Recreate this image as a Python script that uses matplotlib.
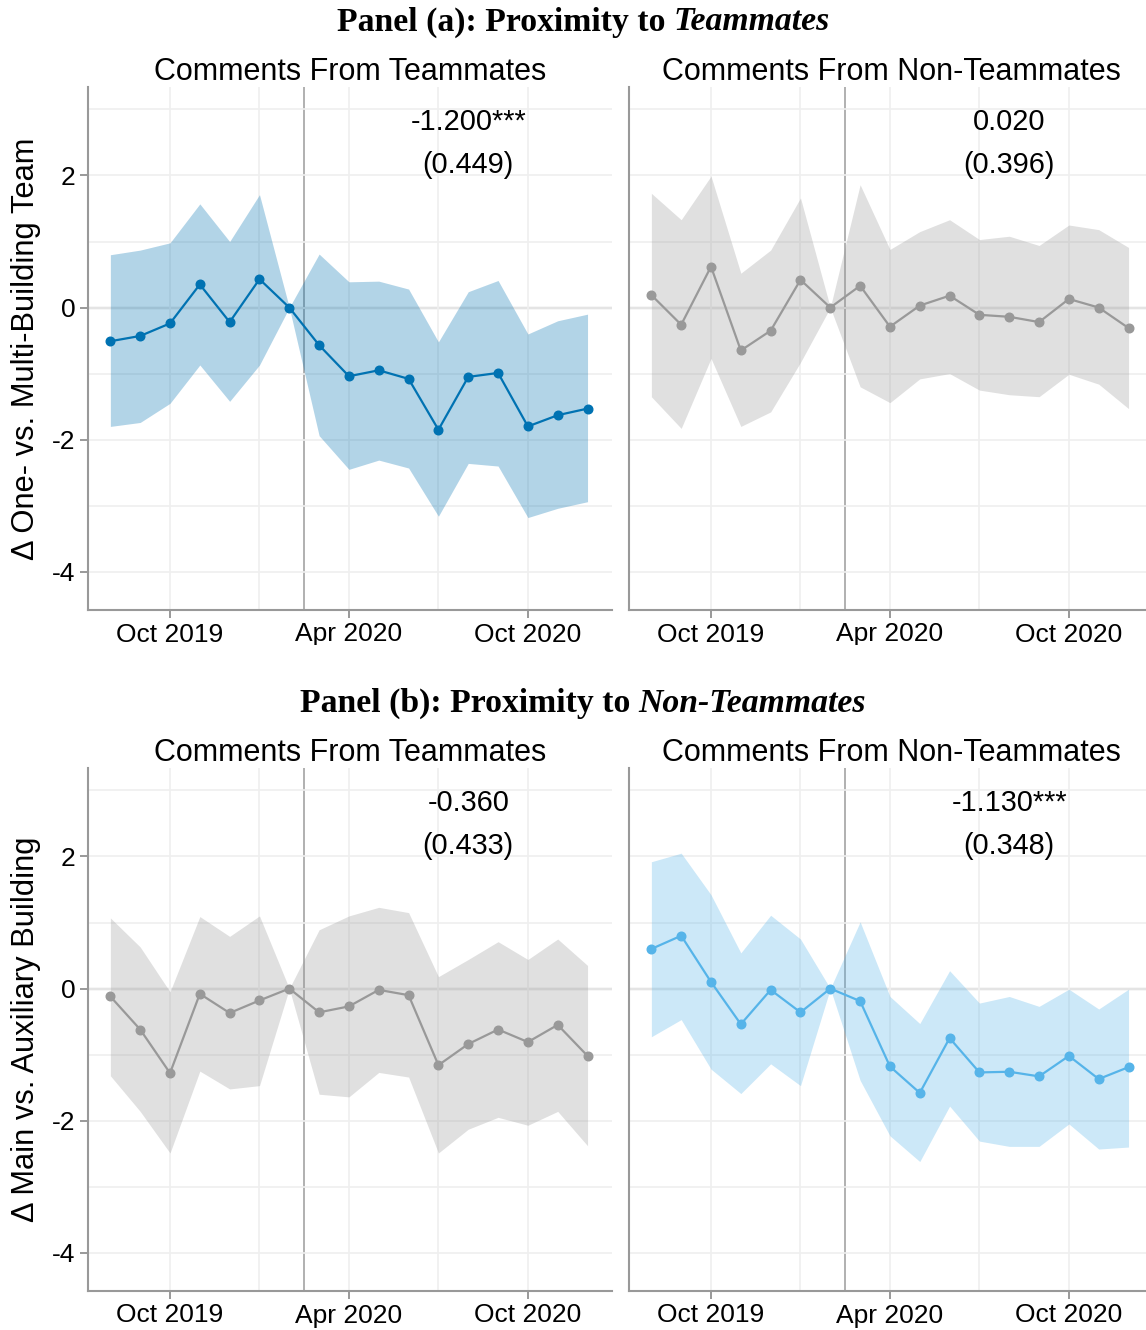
import numpy as np
import matplotlib
matplotlib.use("Agg")
import matplotlib.pyplot as plt
from matplotlib.transforms import Bbox, TransformedBbox

plt.rcParams['font.family'] = ['Liberation Sans', 'DejaVu Sans']
plt.rcParams['axes.unicode_minus'] = False

# months relative to Feb 2020 (Aug 2019 .. Dec 2020)
months = np.arange(-6, 11)
tick_pos = [-4, 2, 8]
tick_labels = ["Oct 2019", "Apr 2020", "Oct 2020"]
grid_pos = [-4, -1, 2, 5, 8]

# panel (a): one- vs multi-building team
a_team_est = [-0.51, -0.43, -0.24, 0.35, -0.22, 0.43, 0.0, -0.57, -1.04, -0.95, -1.08, -1.85, -1.05, -0.99, -1.80, -1.63, -1.53]
a_team_hi = [0.80, 0.87, 0.98, 1.57, 1.00, 1.71, 0.0, 0.81, 0.39, 0.40, 0.28, -0.52, 0.24, 0.41, -0.40, -0.20, -0.10]
a_team_lo = [-1.80, -1.74, -1.45, -0.87, -1.42, -0.87, 0.0, -1.94, -2.45, -2.31, -2.43, -3.16, -2.36, -2.40, -3.18, -3.04, -2.94]

a_non_est = [0.19, -0.26, 0.62, -0.65, -0.35, 0.42, 0.0, 0.33, -0.29, 0.03, 0.18, -0.11, -0.14, -0.22, 0.13, 0.0, -0.31]
a_non_hi = [1.73, 1.33, 1.99, 0.52, 0.87, 1.66, 0.0, 1.86, 0.88, 1.15, 1.33, 1.03, 1.08, 0.94, 1.25, 1.18, 0.91]
a_non_lo = [-1.35, -1.83, -0.77, -1.80, -1.58, -0.83, 0.0, -1.20, -1.44, -1.08, -1.00, -1.25, -1.32, -1.35, -1.01, -1.16, -1.53]

# panel (b): main vs auxiliary building
b_team_est = [-0.12, -0.62, -1.28, -0.08, -0.37, -0.18, 0.0, -0.36, -0.27, -0.02, -0.10, -1.16, -0.84, -0.62, -0.81, -0.55, -1.02]
b_team_hi = [1.07, 0.63, -0.05, 1.09, 0.79, 1.10, 0.0, 0.89, 1.10, 1.23, 1.15, 0.18, 0.44, 0.71, 0.44, 0.75, 0.35]
b_team_lo = [-1.32, -1.86, -2.49, -1.25, -1.52, -1.47, 0.0, -1.60, -1.64, -1.27, -1.34, -2.49, -2.13, -1.95, -2.07, -1.86, -2.38]

b_non_est = [0.60, 0.80, 0.10, -0.54, -0.02, -0.36, 0.0, -0.19, -1.18, -1.58, -0.75, -1.27, -1.26, -1.33, -1.02, -1.37, -1.19]
b_non_hi = [1.92, 2.05, 1.42, 0.54, 1.11, 0.75, 0.0, 1.01, -0.12, -0.53, 0.27, -0.22, -0.12, -0.27, -0.01, -0.31, -0.01]
b_non_lo = [-0.73, -0.47, -1.22, -1.59, -1.14, -1.47, 0.0, -1.39, -2.23, -2.62, -1.78, -2.31, -2.39, -2.39, -2.05, -2.43, -2.40]

coefs = [["-1.200***", "0.020"], ["-0.360", "-1.130***"]]
ses = [["(0.449)", "(0.396)"], ["(0.433)", "(0.348)"]]

W, H = 1146, 1330
fig = plt.figure(figsize=(W / 100, H / 100), dpi=100)

def add_ax(x0, y_top, y_bot):
    return fig.add_axes([x0 / W, 1 - y_bot / H, 524 / W, (y_bot - y_top) / H])

def draw(ax, est, lo, hi, color, coef, se, title, left):
    ax.fill_between(months, lo, hi, color=color, alpha=0.3, lw=0, zorder=2)
    ax.plot(months, est, '-o', color=color, lw=1.6, ms=6.2, zorder=3)
    ax.axhline(0, color='#b0b0b0', lw=1.6, zorder=1.5)
    ax.axvline(0.5, color='#b0b0b0', lw=1.4, zorder=1.5)
    ax.set_xlim(-6.75, 10.82)
    ax.set_ylim(-4.58, 3.34)
    ax.set_xticks(grid_pos, minor=True)
    ax.set_xticks(tick_pos)
    ax.set_xticklabels(tick_labels)
    ax.set_yticks([-4, -2, 0, 2])
    ax.set_yticklabels(["-4", "-2", "0", "2"])
    ax.set_yticks([-3, -1, 1, 3], minor=True)
    ax.grid(True, which='both', color='#efefef', lw=1.2, zorder=0)
    ax.tick_params(which='minor', length=0)
    ax.tick_params(which='major', length=6, width=1.2, color='#888888', labelsize=19, pad=3)
    if not left:
        ax.tick_params(axis='y', which='both', length=0, labelleft=False)
    for s in ['top', 'right']:
        ax.spines[s].set_visible(False)
    for s in ['left', 'bottom']:
        ax.spines[s].set_color('#999999')
        ax.spines[s].set_linewidth(1.5)
    ax.text(6, 2.81, coef, ha='center', va='center', fontsize=20.8)
    ax.text(6, 2.16, se, ha='center', va='center', fontsize=20.8)
    ax.set_title(title, fontsize=22, pad=3)

blue = '#0072B2'
lblue = '#56B4E9'
gray = '#999999'

ax1 = add_ax(88, 87, 610)
ax2 = add_ax(629, 87, 610)
ax3 = add_ax(88, 768, 1291)
ax4 = add_ax(629, 768, 1291)

draw(ax1, a_team_est, a_team_lo, a_team_hi, blue, coefs[0][0], ses[0][0], "Comments From Teammates", True)
draw(ax2, a_non_est, a_non_lo, a_non_hi, gray, coefs[0][1], ses[0][1], "Comments From Non-Teammates", False)
draw(ax3, b_team_est, b_team_lo, b_team_hi, gray, coefs[1][0], ses[1][0], "Comments From Teammates", True)
draw(ax4, b_non_est, b_non_lo, b_non_hi, lblue, coefs[1][1], ses[1][1], "Comments From Non-Teammates", False)

ax1.set_ylabel("Δ One- vs. Multi-Building Team", fontsize=22.2, labelpad=8)
ax3.set_ylabel("Δ Main vs. Auxiliary Building", fontsize=22.2, labelpad=8)

# the top row's date labels are cut off near their baseline
clip = TransformedBbox(Bbox([[0, 1 - 645 / H], [1, 1]]), fig.transFigure)
for ax in (ax1, ax2):
    for lab in ax.get_xticklabels():
        lab.set_clip_on(True)
        lab.set_clip_box(clip)

def panel_title(y_px, prefix, word):
    serif = ['Liberation Serif', 'DejaVu Serif']
    t1 = fig.text(0, 1 - y_px / H, prefix, family=serif, fontweight='bold',
                  fontsize=24.3, ha='left', va='center')
    t2 = fig.text(0, 1 - y_px / H, word, family=serif, fontweight='bold',
                  fontstyle='italic', fontsize=24.3, ha='left', va='center')
    r = fig.canvas.get_renderer()
    w1 = t1.get_window_extent(r).width
    w2 = t2.get_window_extent(r).width
    gap = 8
    x0 = 583 - (w1 + gap + w2) / 2
    t1.set_x(x0 / W)
    t2.set_x((x0 + w1 + gap) / W)

panel_title(22, "Panel (a): Proximity to", "Teammates")
panel_title(703, "Panel (b): Proximity to", "Non-Teammates")

fig.savefig("out.png", dpi=100)
